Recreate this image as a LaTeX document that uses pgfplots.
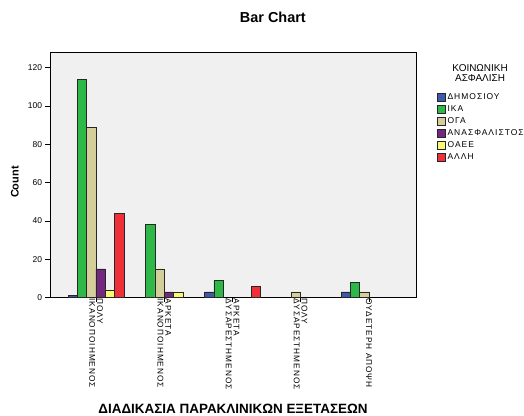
\documentclass[border=0pt]{standalone}
\usepackage{fontspec}
\setmainfont{Liberation Sans}
\newfontfamily\spaced[LetterSpace=12]{Liberation Sans}
\usepackage{pgfplots}
\pgfplotsset{compat=1.18}
\definecolor{cDim}{HTML}{3E58AC}
\definecolor{cIka}{HTML}{2EB848}
\definecolor{cOga}{HTML}{D4CE9A}
\definecolor{cAna}{HTML}{74277E}
\definecolor{cOae}{HTML}{FBF873}
\definecolor{cAll}{HTML}{EF3038}
\definecolor{cBg}{HTML}{F0F0F0}
\begin{document}
\begin{tikzpicture}
\path[use as bounding box] (-50bp,-118.5bp) rectangle (474bp,297.5bp);
\begin{axis}[
  at={(0,0)}, anchor=south west,
  scale only axis, width=366bp, height=245.5bp,
  axis background/.style={fill=cBg},
  ybar=0pt, bar width=9.3bp,
  xmin=-0.674, xmax=4.69, ymin=0, ymax=128.2,
  xtick={0,1,2,3,4},
  xticklabels={{ΠΟΛΥ\\ΙΚΑΝΟΠΟΙΗΜΕΝΟΣ},{ΑΡΚΕΤΑ\\ΙΚΑΝΟΠΟΙΗΜΕΝΟΣ},{ΑΡΚΕΤΑ\\ΔΥΣΑΡΕΣΤΗΜΕΝΟΣ},{ΠΟΛΥ\\ΔΥΣΑΡΕΣΤΗΜΕΝΟΣ},{ΟΥΔΕΤΕΡΗ ΑΠΟΨΗ}},
  xticklabel style={rotate=-90, anchor=west, align=left, font=\spaced\fontsize{8.3}{7.8}\selectfont, inner sep=0.5bp, xshift=-4bp},
  ytick={0,20,40,60,80,100,120},
  yticklabel style={font=\fontsize{8.5}{10}\selectfont},
  /pgf/number format/assume math mode=true,
  tick align=outside, major tick length=4.5bp,
  xtick pos=bottom, ytick pos=left,
  axis line style={black, line width=0.8pt},
  tick style={black, line width=0.6pt},
  ylabel={\bfseries Count},
  ylabel style={font=\fontsize{11}{12}\selectfont, at={(axis description cs:-0.096,0.47)}, anchor=center},
  xlabel={\bfseries ΔΙΑΔΙΚΑΣΙΑ ΠΑΡΑΚΛΙΝΙΚΩΝ ΕΞΕΤΑΣΕΩΝ},
  xlabel style={font=\fontsize{13.5}{14}\selectfont, at={(axis description cs:0.5,-0.455)}, anchor=center},
  title={\bfseries Bar Chart},
  title style={font=\fontsize{14.5}{15}\selectfont, at={(axis description cs:0.609,1.116)}, anchor=center, yshift=0pt},
  legend style={at={(axis description cs:1.057,0.841)}, anchor=north west, draw=none, fill=none,
    font=\spaced\fontsize{8.5}{9}\selectfont, inner sep=0pt, row sep=0.7bp,
    /tikz/every even column/.append style={column sep=0bp}},
  legend cell align=left,
  legend image code/.code={\draw[#1, draw=black!85, line width=0.5pt] (0bp,-4bp) rectangle (8bp,4bp);},
  clip=false,
]
\addplot[fill=cDim, draw=black!85, line width=0.5pt] coordinates {(0,1) (2,3) (4,3)};
\addplot[fill=cIka, draw=black!85, line width=0.5pt] coordinates {(0,114) (1,38) (2,9) (4,8)};
\addplot[fill=cOga, draw=black!85, line width=0.5pt] coordinates {(0,89) (1,15) (3,3) (4,3)};
\addplot[fill=cAna, draw=black!85, line width=0.5pt] coordinates {(0,15) (1,3)};
\addplot[fill=cOae, draw=black!85, line width=0.5pt] coordinates {(0,4) (1,3)};
\addplot[fill=cAll, draw=black!85, line width=0.5pt] coordinates {(0,44) (2,6)};
\legend{ΔΗΜΟΣΙΟΥ,ΙΚΑ,ΟΓΑ,ΑΝΑΣΦΑΛΙΣΤΟΣ,ΟΑΕΕ,ΑΛΛΗ}
\node[align=center, font=\fontsize{10}{10.5}\selectfont] at (axis description cs:1.175,0.914) {ΚΟΙΝΩΝΙΚΗ\\ΑΣΦΑΛΙΣΗ};
\end{axis}
\end{tikzpicture}
\end{document}
